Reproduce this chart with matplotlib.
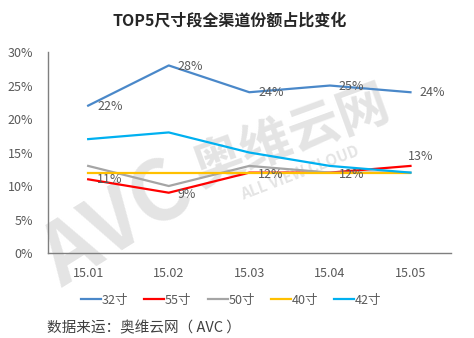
import matplotlib.pyplot as plt
from matplotlib.lines import Line2D

plt.rcParams['font.family'] = ['Noto Sans CJK SC', 'DejaVu Sans']

months = ['15.01', '15.02', '15.03', '15.04', '15.05']
s32 = [22, 28, 24, 25, 24]
s55 = [11, 9, 12, 12, 13]
s50 = [13, 10, 13, 12, 12]
s40 = [12, 12, 12, 12, 12]
s42 = [17, 18, 15, 13, 12]

series = [
    ('32寸', s32, '#4A88C9'),
    ('55寸', s55, '#FF0000'),
    ('50寸', s50, '#A5A5A5'),
    ('40寸', s40, '#FFC000'),
    ('42寸', s42, '#00B0F0'),
]

txt = '#595959'
wm = '#E4E4E4'

fig = plt.figure(figsize=(4.74, 3.38), dpi=100)
ax = fig.add_axes([0.101, 0.2515, 0.85, 0.5945])

# watermark behind the plot
fig.text(0.245, 0.335, 'AVC', fontsize=60, fontweight='bold', style='italic',
         color=wm, rotation=32, ha='center', va='center', zorder=-1)
fig.text(0.614, 0.595, '奥维云网', fontsize=37, fontweight='bold',
         color=wm, rotation=20, ha='center', va='center', zorder=-1)
fig.text(0.632, 0.49, 'ALL VIEW CLOUD', fontsize=11, fontweight='bold',
         color=wm, rotation=21, ha='center', va='center', zorder=-1)
ax.patch.set_alpha(0)

x = range(len(months))
for name, vals, col in series:
    ax.plot(x, vals, color=col, lw=1.6, label=name)

# value labels on 32寸 and 55寸
for i, v in enumerate(s32):
    ax.annotate(f'{v}%', (i, v), xytext=(6.5, -0.5), textcoords='offset points',
                fontsize=9, color=txt, ha='left', va='center')
off55 = [(6.5, 0), (6.5, -1), (6.5, -1), (6.5, -1), (-2, 7)]
for i, v in enumerate(s55):
    dx, dy = off55[i]
    ax.annotate(f'{v}%', (i, v), xytext=(dx, dy), textcoords='offset points',
                fontsize=9, color=txt, ha='left', va='center')

ax.set_xlim(-0.5, 4.5)
ax.set_ylim(0, 30)
ax.set_yticks(range(0, 31, 5))
ax.set_yticklabels([f'{t}%' for t in range(0, 31, 5)])
ax.set_xticks(list(x))
ax.set_xticklabels(months)
ax.tick_params(length=0, labelsize=9, colors=txt)
ax.tick_params(axis='x', pad=10)
ax.tick_params(axis='y', pad=10.5)
for sp in ['top', 'right']:
    ax.spines[sp].set_visible(False)
for sp in ['left', 'bottom']:
    ax.spines[sp].set_color('#7F7F7F')
    ax.spines[sp].set_linewidth(1)

handles = [Line2D([], [], color=c, lw=1.6) for _, _, c in series]
fig.legend(handles, [n for n, _, _ in series], loc='center', ncol=5,
           bbox_to_anchor=(0.488, 0.112), frameon=False, fontsize=9,
           handlelength=1.6, handletextpad=0.05, columnspacing=1.3,
           labelcolor=txt)

fig.text(0.485, 0.94, 'TOP5尺寸段全渠道份额占比变化', fontsize=11.5,
         fontweight='bold', color='#262626', ha='center', va='center')
fig.text(0.10, 0.03, '数据来运：奥维云网（ AVC ）', fontsize=10.5, color='#404040',
         ha='left', va='center')

fig.savefig('out.png', dpi=100)
